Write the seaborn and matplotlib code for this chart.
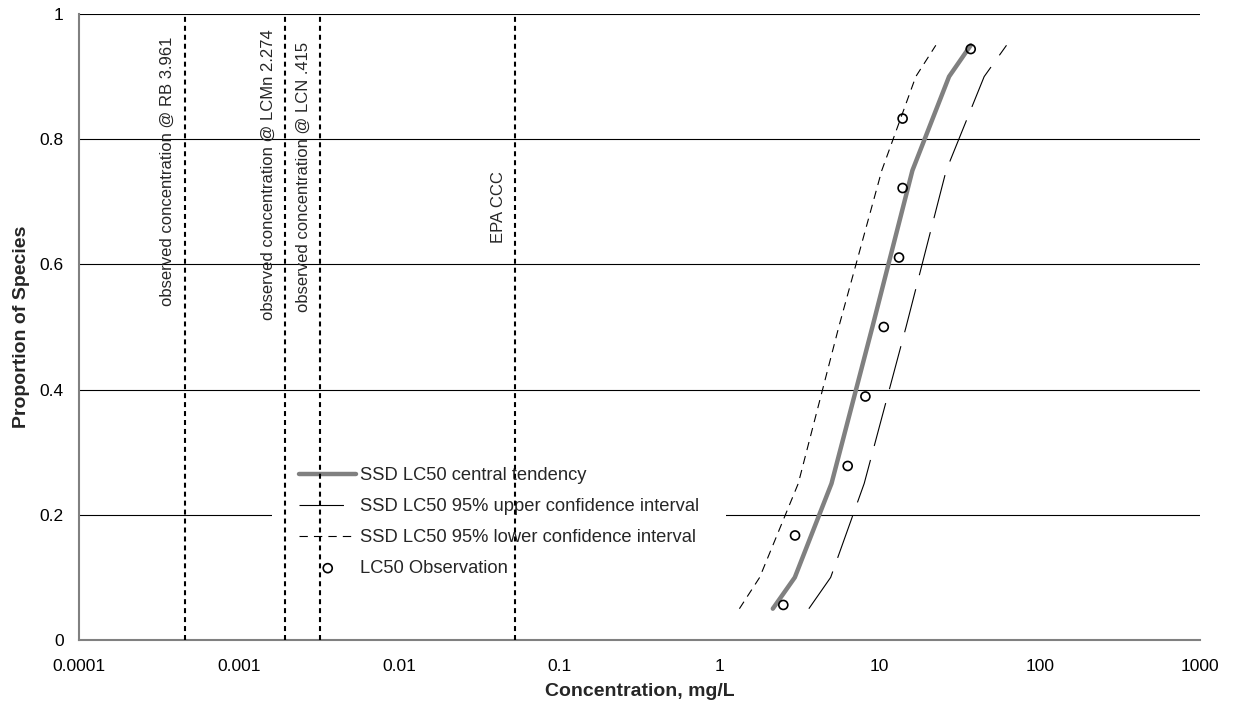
import matplotlib
matplotlib.use('Agg')
import matplotlib.pyplot as plt
import seaborn as sns
import pandas as pd
from matplotlib.ticker import FixedLocator, FixedFormatter, NullLocator

# SSD curve percentiles and concentrations (mg/L)
curve_p = [0.05, 0.1, 0.25, 0.5, 0.75, 0.9, 0.95]
central_conc = [2.15, 2.95, 5.0, 9.0, 16.0, 27.1, 37.0]
upper_ci_conc = [3.61, 4.94, 8.0, 14.6, 26.0, 44.9, 61.9]
lower_ci_conc = [1.33, 1.78, 3.1, 5.55, 10.3, 16.8, 22.4]

# LC50 observations
obs_conc = [2.50, 2.96, 6.31, 8.14, 10.6, 13.2, 13.9, 13.9, 37.0]
obs_p = [0.056, 0.167, 0.278, 0.389, 0.5, 0.611, 0.722, 0.833, 0.944]

# reference concentrations (vertical lines)
ref_conc = [0.000456, 0.00194, 0.00321, 0.0531]
ref_labels = ['observed concentration @ RB 3.961',
              'observed concentration @ LCMn 2.274',
              'observed concentration @ LCN .415',
              'EPA CCC']
ref_label_y = [0.749, 0.743, 0.740, 0.692]

x_ticks = [0.0001, 0.001, 0.01, 0.1, 1, 10, 100, 1000]
x_tick_labels = ['0.0001', '0.001', '0.01', '0.1', '1', '10', '100', '1000']
y_ticks = [0, 0.2, 0.4, 0.6, 0.8, 1.0]
y_tick_labels = ['0', '0.2', '0.4', '0.6', '0.8', '1']

sns.set_style('white')
plt.rcParams['font.family'] = ['Liberation Sans', 'DejaVu Sans']

curves = pd.DataFrame({'p': curve_p, 'central': central_conc,
                       'upper': upper_ci_conc, 'lower': lower_ci_conc})
obs = pd.DataFrame({'conc': obs_conc, 'p': obs_p})

fig = plt.figure(figsize=(12.33, 7.08), dpi=100)
ax = fig.add_axes([79 / 1233, 68 / 708, 1121 / 1233, 626 / 708])

sns.lineplot(data=curves, x='central', y='p', sort=False, estimator=None, ax=ax,
             color='#808080', lw=3.2, solid_capstyle='round',
             label='SSD LC50 central tendency', zorder=3)
sns.lineplot(data=curves, x='upper', y='p', sort=False, estimator=None, ax=ax,
             color='black', lw=0.8, linestyle=(0, (40, 13)),
             label='SSD LC50 95% upper confidence interval', zorder=3)
sns.lineplot(data=curves, x='lower', y='p', sort=False, estimator=None, ax=ax,
             color='black', lw=0.8, linestyle=(0, (7.5, 5.5)),
             label='SSD LC50 95% lower confidence interval', zorder=3)
sns.scatterplot(data=obs, x='conc', y='p', ax=ax, marker='o', s=42,
                facecolors='none', edgecolor='black', linewidth=1.2,
                label='LC50 Observation', zorder=4)

for xv, txt, ty in zip(ref_conc, ref_labels, ref_label_y):
    ax.axvline(xv, color='black', lw=1.5, linestyle=(0, (2.4, 1.9)), zorder=5)
    ax.annotate(txt, xy=(xv, ty), xycoords=('data', 'axes fraction'),
                xytext=(-12.5, 0), textcoords='offset points',
                rotation=90, ha='center', va='center', fontsize=12)

ax.set_xscale('log')
ax.set_xlim(0.0001, 1000)
ax.set_ylim(0, 1)
ax.xaxis.set_major_locator(FixedLocator(x_ticks))
ax.xaxis.set_major_formatter(FixedFormatter(x_tick_labels))
ax.xaxis.set_minor_locator(NullLocator())
ax.yaxis.set_major_locator(FixedLocator(y_ticks))
ax.yaxis.set_major_formatter(FixedFormatter(y_tick_labels))

ax.set_axisbelow(True)
ax.yaxis.grid(True, color='black', lw=0.8)
ax.xaxis.grid(False)
for side in ['top', 'right']:
    ax.spines[side].set_visible(False)
for side in ['left', 'bottom']:
    ax.spines[side].set_color('#808080')
    ax.spines[side].set_linewidth(1.5)
ax.tick_params(axis='both', direction='out', length=5, width=1, color='#808080',
               labelsize=12.5, labelcolor='black')
ax.tick_params(axis='x', pad=9)
ax.tick_params(axis='y', pad=6)

ax.set_xlabel('Concentration, mg/L', fontsize=14, fontweight='bold', labelpad=6)
ax.set_ylabel('Proportion of Species', fontsize=14, fontweight='bold', labelpad=7)

leg = ax.legend(loc='upper left', bbox_to_anchor=(0.172, 0.320), borderaxespad=0,
                frameon=True, fancybox=False, facecolor='white', edgecolor='none',
                framealpha=1, fontsize=13.2, handlelength=3.1, handletextpad=0.2,
                labelspacing=0.76, borderpad=1.5)
leg.set_zorder(4.5)

fig.savefig('out.png', dpi=100, facecolor='white')
